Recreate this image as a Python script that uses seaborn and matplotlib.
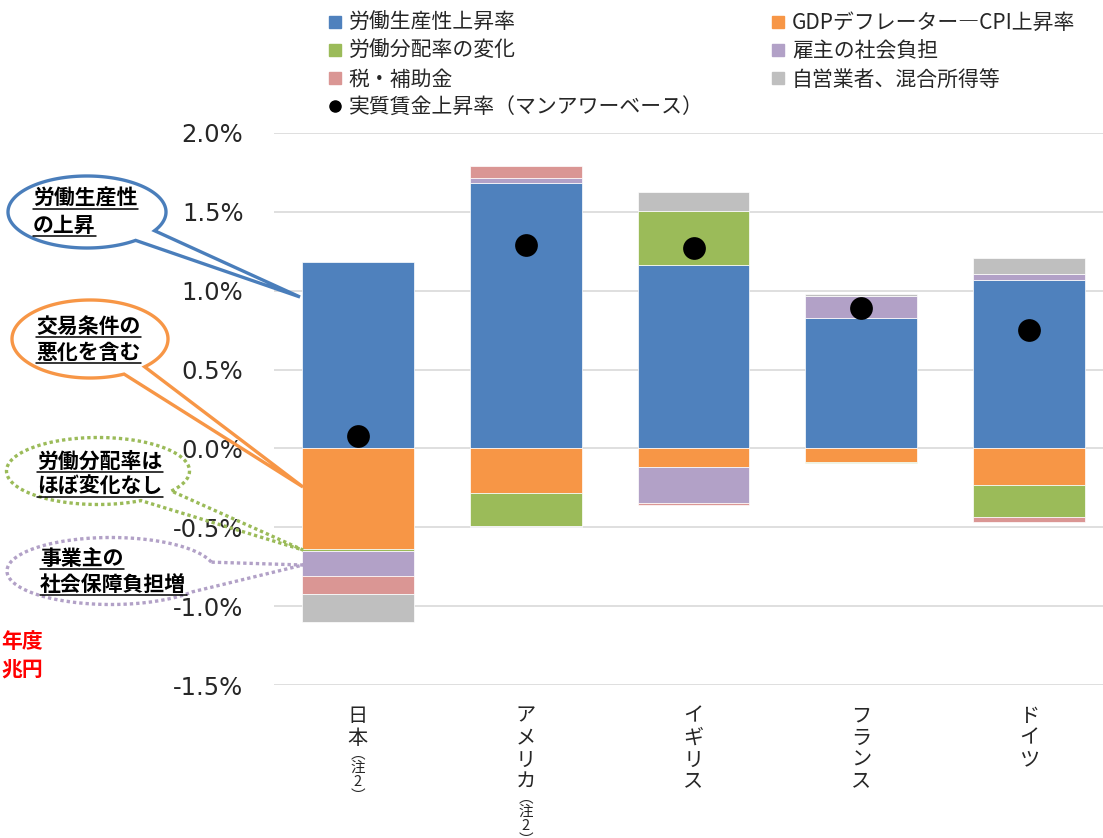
import numpy as np
import matplotlib
matplotlib.use("Agg")
import matplotlib.pyplot as plt
from matplotlib.lines import Line2D
from matplotlib.patches import Polygon
from matplotlib import transforms
import seaborn as sns

# data (% per year)
countries = ['日本', 'アメリカ', 'イギリス', 'フランス', 'ドイツ']
country_notes = ['注2', '注2', '', '', '']
productivity = [1.18, 1.685, 1.164, 0.827, 1.067]
gdp_minus_cpi = [-0.64, -0.28, -0.115, -0.087, -0.235]
labor_share = [-0.01, -0.21, 0.34, -0.007, -0.197]
employer_burden = [-0.16, 0.03, -0.23, 0.14, 0.042]
tax_subsidy = [-0.11, 0.075, -0.015, 0.0, -0.032]
self_employed = [-0.18, -0.01, 0.12, 0.015, 0.10]
real_wage = [0.08, 1.29, 1.27, 0.89, 0.75]

series_labels = ['労働生産性上昇率', 'GDPデフレーター―CPI上昇率', '労働分配率の変化',
                 '雇主の社会負担', '税・補助金', '自営業者、混合所得等']
dot_label = '実質賃金上昇率（マンアワーベース）'
yticks = [-1.5, -1.0, -0.5, 0.0, 0.5, 1.0, 1.5, 2.0]

colors = ['#4F81BD', '#F79646', '#9BBB59', '#B2A1C7', '#DA9694', '#BFBFBF']

sns.set_theme(style='white')
plt.rcParams['font.family'] = ['Noto Sans CJK JP', 'DejaVu Sans']

W, H = 1103, 838
fig = plt.figure(figsize=(W / 100, H / 100), dpi=100)
ax = fig.add_axes([274 / W, 1 - 685 / H, 839 / W, 552 / H])

# stacked bars, positives up and negatives down
x = np.arange(len(countries))
pos_base = np.zeros(len(countries))
neg_base = np.zeros(len(countries))
all_series = [productivity, gdp_minus_cpi, labor_share, employer_burden, tax_subsidy, self_employed]
for vals, c in zip(all_series, colors):
    vals = np.array(vals)
    base = np.where(vals >= 0, pos_base, neg_base)
    ax.bar(x, vals, bottom=base, width=0.667, color=c, edgecolor='white', linewidth=0.5, zorder=2)
    pos_base = pos_base + np.clip(vals, 0, None)
    neg_base = neg_base + np.clip(vals, None, 0)

sns.scatterplot(x=x, y=real_wage, ax=ax, color='black', s=230, edgecolor='black', zorder=5, legend=False)

ax.set_xlim(-0.5, len(countries) - 0.5)
ax.set_ylim(-1.5, 2.0)
ax.set_yticks(yticks)
ax.set_yticklabels([f'{v:.1f}%' for v in yticks], fontfamily='DejaVu Sans', fontsize=17.5)
ax.tick_params(axis='y', length=0, pad=22)
ax.set_xticks(x)
ax.set_xticklabels([])
ax.tick_params(axis='x', length=0)
ax.yaxis.grid(True, color='#D9D9D9', linewidth=1.2)
ax.set_axisbelow(True)
for s in ax.spines.values():
    s.set_visible(False)
ax.set_xlabel('')
ax.set_ylabel('')

# legends (two columns)
handles = [Line2D([], [], marker='s', ls='none', color=c, markersize=8) for c in colors]
dot_handle = Line2D([], [], marker='o', ls='none', color='black', markersize=8)
leg_kw = dict(frameon=False, fontsize=15, handlelength=0.6, handletextpad=0.35,
              labelspacing=0.3, borderpad=0, borderaxespad=0, loc='upper left')
leg1 = fig.legend([handles[0], handles[2], handles[4], dot_handle],
                  [series_labels[0], series_labels[2], series_labels[4], dot_label],
                  bbox_to_anchor=(329 / W, 1 - 12 / H), **leg_kw)
leg2 = fig.legend([handles[1], handles[3], handles[5]],
                  [series_labels[1], series_labels[3], series_labels[5]],
                  bbox_to_anchor=(772 / W, 1 - 12 / H), **leg_kw)

# overlay in pixel coordinates for callouts
over = fig.add_axes([0, 0, 1, 1], zorder=10)
over.set_xlim(0, W)
over.set_ylim(H, 0)
over.axis('off')


def callout(cx, cy, w, h, b1, b2, tip, color, ls):
    a, b = w / 2, h / 2
    t1 = np.arctan2((b1[1] - cy) / b, (b1[0] - cx) / a)
    t2 = np.arctan2((b2[1] - cy) / b, (b2[0] - cx) / a)
    d = (t2 - t1) % (2 * np.pi)
    if d < np.pi:
        ts = np.linspace(t1, t1 - (2 * np.pi - d), 240)
    else:
        ts = np.linspace(t1, t1 + d, 240)
    pts = np.column_stack([cx + a * np.cos(ts), cy + b * np.sin(ts)])
    pts = np.vstack([pts, tip])
    over.add_patch(Polygon(pts, closed=True, fill=False, edgecolor=color,
                           linewidth=2.4, linestyle=ls, joinstyle='miter'))


callout(87, 212, 158, 72, (152, 230), (135, 240), (300, 297), '#4A7EBB', '-')
callout(90, 339, 156, 78, (145, 367), (123, 373), (303, 487), '#F79646', '-')
callout(98, 471, 183, 67, (175, 492), (143, 502), (303, 550), '#9BBB59', (0, (1, 0.9)))
callout(111, 571, 208, 67, (213, 562), (197, 593), (303, 565), '#B2A1C7', (0, (1, 0.9)))

callout_lines = [
    (33, 209, '労働生産性'), (33, 236, 'の上昇'),
    (36, 337, '交易条件の'), (36, 363, '悪化を含む'),
    (37, 472, '労働分配率は'), (37, 497, 'ほぼ変化なし'),
    (40, 569, '事業主の'), (40, 595, '社会保障負担増'),
]
em = 21
for tx, uy, txt in callout_lines:
    over.text(tx, uy - 4, txt, fontsize=15, fontweight='bold', color='black',
              ha='left', va='baseline')
    over.plot([tx, tx + len(txt) * em], [uy, uy], color='black', linewidth=1.1)

over.text(1, 648, '年度', fontsize=15, fontweight='bold', color='#FF0000', ha='left', va='baseline')
over.text(1, 677, '兆円', fontsize=15, fontweight='bold', color='#FF0000', ha='left', va='baseline')

# vertical category labels
blend = transforms.blended_transform_factory(ax.transData, over.transData)
for i, (name, note) in enumerate(zip(countries, country_notes)):
    y = 716
    for ch in name:
        over.text(i, y, ch, transform=blend, fontsize=14.5, ha='center', va='center')
        y += 22
    if note:
        y -= 6
        for ch in '︵' + note + '︶':
            over.text(i, y, ch, transform=blend, fontsize=10.5, ha='center', va='center')
            y += 14

fig.savefig('out.png', dpi=100)
